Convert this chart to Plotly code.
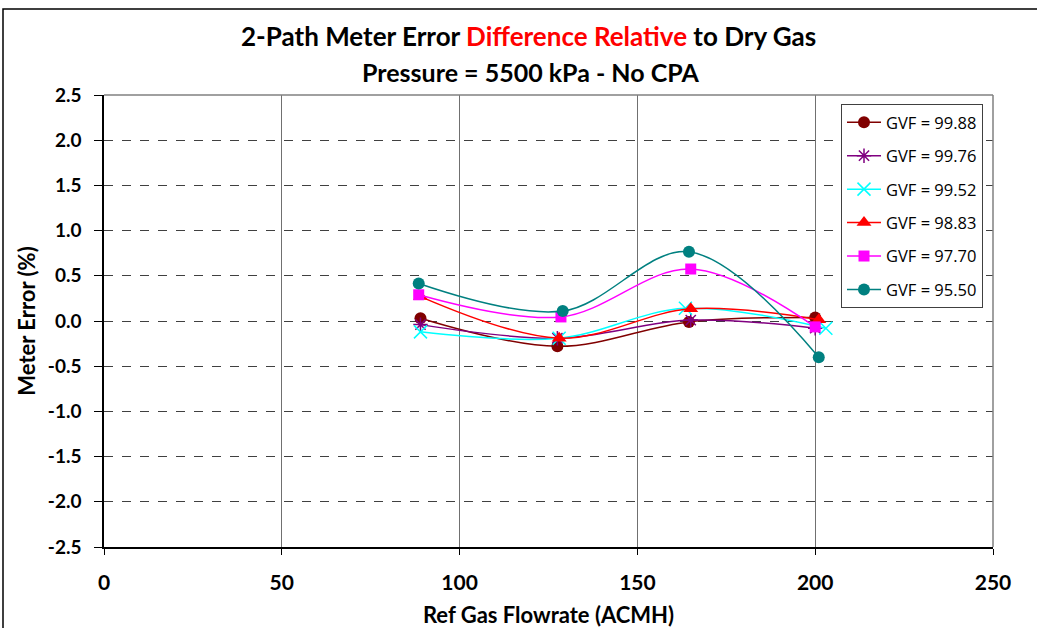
import plotly.graph_objects as go

# ---- data ----
series_names = ["GVF = 99.88", "GVF = 99.76", "GVF = 99.52", "GVF = 98.83", "GVF = 97.70", "GVF = 95.50"]
x_9988 = [89.0, 127.5, 164.5, 200.0]
y_9988 = [0.03, -0.28, -0.01, 0.04]
x_9976 = [89.0, 127.5, 165.0, 200.0]
y_9976 = [-0.04, -0.19, 0.01, -0.08]
x_9952 = [89.0, 128.0, 163.5, 203.0]
y_9952 = [-0.12, -0.19, 0.14, -0.08]
x_9883 = [89.0, 128.0, 165.0, 201.0]
y_9883 = [0.27, -0.19, 0.135, 0.015]
x_9770 = [88.5, 128.5, 165.0, 200.0]
y_9770 = [0.29, 0.045, 0.575, -0.065]
x_9550 = [88.5, 129.0, 164.5, 201.0]
y_9550 = [0.415, 0.11, 0.765, -0.40]

x_ticks = [0, 50, 100, 150, 200, 250]
y_ticks = [-2.5, -2.0, -1.5, -1.0, -0.5, 0.0, 0.5, 1.0, 1.5, 2.0, 2.5]

xs = [x_9988, x_9976, x_9952, x_9883, x_9770, x_9550]
ys = [y_9988, y_9976, y_9952, y_9883, y_9770, y_9550]
line_colors = ["#800000", "#800080", "#00FFFF", "#FF0000", "#FF00FF", "#008080"]
marker_colors = ["#800000", "#800080", "#00FFFF", "#FF0000", "#FF00FF", "#008080"]
symbols = ["circle", "asterisk-open", "x-thin-open", "triangle-up", "square", "circle"]
sizes = [12, 12, 13, 13, 11, 12]

fig = go.Figure()
for i in range(6):
    mk = dict(symbol=symbols[i], size=sizes[i], color=marker_colors[i])
    if symbols[i].endswith("open"):
        mk["line"] = dict(color=marker_colors[i], width=1.5)
    else:
        mk["line"] = dict(width=0)
    fig.add_trace(go.Scatter(
        x=xs[i], y=ys[i], name=series_names[i], mode="lines+markers",
        line=dict(color=line_colors[i], width=1.5, shape="spline", smoothing=1.0),
        marker=mk, legendgroup="g%d" % i,
    ))

L, R, T, B = 104, 44, 95, 81
W, H = 1037, 628
pw = W - L - R
ph = H - T - B

def px_x(p):
    return (p - L) / pw

def px_y(p):
    return (H - B - p) / ph

fig.update_layout(
    width=W, height=H,
    margin=dict(l=L, r=R, t=T, b=B, autoexpand=False),
    paper_bgcolor="white", plot_bgcolor="white",
    font=dict(family="Lato, Open Sans, sans-serif", color="black"),
    showlegend=True,
    legend=dict(
        x=px_x(841), y=px_y(104), xanchor="left", yanchor="top",
        bgcolor="white", bordercolor="#404040", borderwidth=1,
        font=dict(size=16.5, family="Open Sans, sans-serif"),
        tracegroupgap=9, traceorder="grouped",
        itemwidth=34,
    ),
    xaxis=dict(
        range=[0, 250], tickvals=x_ticks, ticktext=[str(v) for v in x_ticks],
        showgrid=True, gridcolor="#707070", gridwidth=1,
        showline=True, linecolor="black", linewidth=1.5,
        ticks="outside", ticklen=6, tickcolor="black",
        ticklabelstandoff=10, automargin=False,
        tickfont=dict(size=21, weight="bold", family="Lato, sans-serif"),
        zeroline=False,
        title=dict(text="Ref Gas Flowrate (ACMH)", font=dict(size=22, weight="bold", family="Lato, sans-serif"), standoff=18),
    ),
    yaxis=dict(
        range=[-2.5, 2.5], tickvals=y_ticks, ticktext=["%.1f" % v for v in y_ticks],
        showgrid=True, gridcolor="#404040", gridwidth=1, griddash="dash",
        showline=True, linecolor="black", linewidth=1.5,
        ticks="outside", ticklen=8, tickcolor="black",
        ticklabelstandoff=9, automargin=False,
        tickfont=dict(size=19, weight="bold", family="Lato, sans-serif"),
        zeroline=False,
        title=dict(text="Meter Error (%)", font=dict(size=22, weight="bold", family="Lato, sans-serif"), standoff=6),
    ),
    shapes=[
        dict(type="line", xref="paper", yref="paper", x0=0, x1=1, y0=1, y1=1, line=dict(color="#808080", width=1.5)),
        dict(type="line", xref="paper", yref="paper", x0=1, x1=1, y0=0, y1=1, line=dict(color="#808080", width=1.5)),
        dict(type="rect", xref="paper", yref="paper", x0=px_x(3), x1=px_x(1045), y0=px_y(9), y1=px_y(640),
             line=dict(color="black", width=1.5), layer="below"),
    ],
    annotations=[
        dict(xref="paper", yref="paper", x=px_x(528), y=px_y(36), xanchor="center", yanchor="middle",
             showarrow=False,
             text="2-Path Meter Error <span style='color:#FF0000'>Difference Relative</span> to Dry Gas",
             font=dict(size=26, weight="bold", family="Lato, sans-serif", color="black")),
        dict(xref="paper", yref="paper", x=px_x(530), y=px_y(72), xanchor="center", yanchor="middle",
             showarrow=False, text="Pressure = 5500 kPa - No CPA",
             font=dict(size=25, weight="bold", family="Lato, sans-serif", color="black")),
    ],
)

fig.write_html("out.html")
